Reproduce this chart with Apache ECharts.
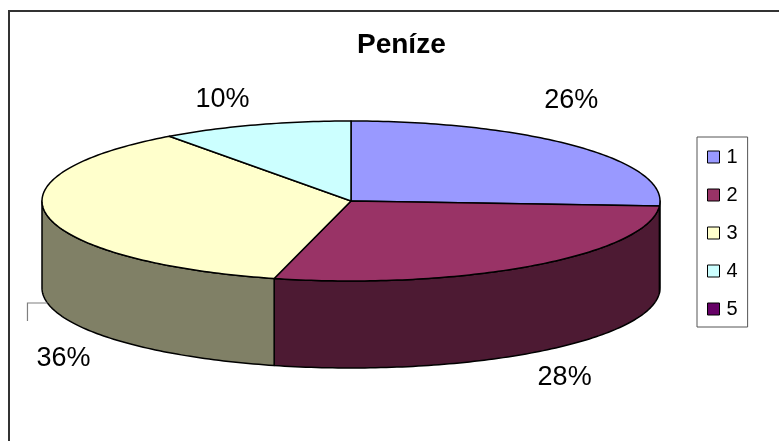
<!DOCTYPE html>
<html><head><meta charset="utf-8">
<script src="https://cdn.jsdelivr.net/npm/echarts@6/dist/echarts.min.js"></script>
<style>html,body{margin:0;padding:0;background:#fff}#c{width:779px;height:441px}</style>
</head><body><div id="c"></div>
<script>
// ---- data ----
const chartTitle = 'Peníze';
const categories = ['1', '2', '3', '4', '5'];
const values = [26, 28, 36, 10, 0];
const topColors = ['#9999FF', '#993366', '#FFFFCC', '#CCFFFF', '#660066'];
const sideColors = ['#4D4D80', '#4D1A33', '#808066', '#668080', '#330033'];

// ---- layout ----
const PIE = { cx: 351, cy: 201, rx: 309, ry: 80, depth: 87 };
const LABEL_OFFSET = [[-5, -46], [32, 25], [16, 56], [-33, -25], [0, 0]];
const LEADER = [null, null, [[-20, 0], [-20, 18]], null, null];

const total = values.reduce((a, b) => a + b, 0);
const starts = [];
let acc = 0;
values.forEach(v => { starts.push(acc); acc += v; });

function pt(a, dy) {
  return [PIE.cx + PIE.rx * Math.sin(a), PIE.cy - PIE.ry * Math.cos(a) + (dy || 0)];
}
function arc(a1, a2, dy) {
  const n = Math.max(2, Math.ceil((a2 - a1) / (Math.PI / 180)));
  const out = [];
  for (let k = 0; k <= n; k++) out.push(pt(a1 + (a2 - a1) * k / n, dy));
  return out;
}

function renderSlice(i) {
  return function (params, api) {
    const v = values[i];
    if (!v) return { type: 'group', children: [] };
    const a1 = starts[i] / total * 2 * Math.PI;
    const a2 = (starts[i] + v) / total * 2 * Math.PI;
    const children = [];
    const s = Math.max(a1, Math.PI / 2), e = Math.min(a2, 1.5 * Math.PI);
    if (e > s) {
      const top = arc(s, e, 0), bot = arc(s, e, PIE.depth).reverse();
      children.push({
        type: 'polygon', z2: 1,
        shape: { points: top.concat(bot) },
        style: { fill: sideColors[i], stroke: '#000', lineWidth: 1.5, lineJoin: 'round' }
      });
    }
    children.push({
      type: 'polygon', z2: 10,
      shape: { points: [[PIE.cx, PIE.cy]].concat(arc(a1, a2, 0)) },
      style: { fill: topColors[i], stroke: '#000', lineWidth: 1.5, lineJoin: 'round' }
    });
    const m = (a1 + a2) / 2;
    const front = Math.cos(m) < 0;
    const anchor = pt(m, front ? PIE.depth : 0);
    const off = LABEL_OFFSET[i];
    children.push({
      type: 'text', z2: 20,
      style: {
        text: Math.round(v / total * 100) + '%',
        x: anchor[0] + off[0], y: anchor[1] + off[1],
        align: 'center', verticalAlign: 'middle',
        fill: '#000', font: '27px Arial, "Liberation Sans", sans-serif'
      }
    });
    if (LEADER[i]) {
      const pts = [anchor].concat(LEADER[i].map(p => [anchor[0] + p[0], anchor[1] + p[1]]));
      children.push({
        type: 'polyline', z2: 20,
        shape: { points: pts },
        style: { stroke: '#7f7f7f', lineWidth: 1.2, fill: 'none' }
      });
    }
    return { type: 'group', children };
  };
}

const chart = echarts.init(document.getElementById('c'), null, { renderer: 'canvas' });
chart.setOption({
  animation: false,
  backgroundColor: '#fff',
  title: {
    text: chartTitle, left: 357, top: 31, padding: 0,
    textStyle: { fontSize: 28, fontWeight: 'bold', color: '#000', fontFamily: 'Arial, "Liberation Sans", sans-serif' }
  },
  legend: {
    orient: 'vertical', left: 697, top: 137,
    padding: [10, 10, 8, 10], itemGap: 18,
    itemWidth: 12, itemHeight: 12, icon: 'rect',
    borderColor: '#555', borderWidth: 1,
    selectedMode: false,
    itemStyle: { borderColor: '#000', borderWidth: 1 },
    textStyle: { fontSize: 20, lineHeight: 20, color: '#000', fontFamily: 'Arial, "Liberation Sans", sans-serif', padding: [0, 0, 0, 2] },
    data: categories
  },
  graphic: [{
    type: 'rect', silent: true,
    shape: { x: 9, y: 11, width: 820, height: 480 },
    style: { fill: 'none', stroke: '#333', lineWidth: 2 }
  }],
  series: categories.map((name, i) => ({
    type: 'custom', name, coordinateSystem: 'none', silent: true,
    itemStyle: { color: topColors[i] },
    data: [[values[i]]],
    renderItem: renderSlice(i)
  }))
});
</script></body></html>
